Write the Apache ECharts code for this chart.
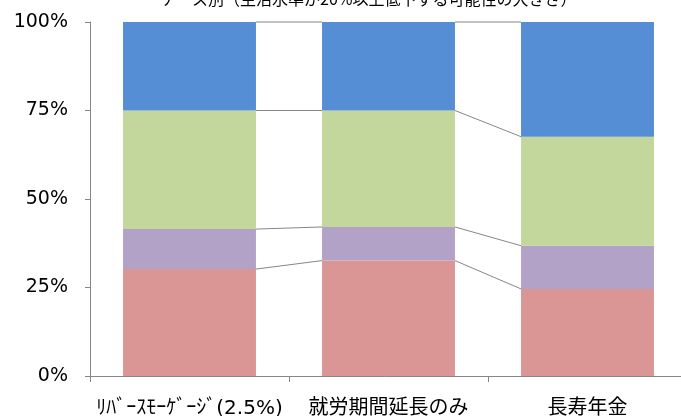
<!DOCTYPE html>
<html>
<head>
<meta charset="utf-8">
<script src="https://cdn.jsdelivr.net/npm/echarts@6/dist/echarts.min.js"></script>
<style>
  html, body { margin: 0; padding: 0; background: #fff; }
  #main { width: 681px; height: 416px; }
</style>
</head>
<body>
<div id="main"></div>
<script>
var categories = ["ﾘﾊﾞｰｽﾓｰｹﾞｰｼﾞ(2.5%)", "就労期間延長のみ", "長寿年金"];
var redValues = [30.2, 32.6, 24.6];
var purpleValues = [11.3, 9.5, 12.2];
var greenValues = [33.5, 32.9, 30.8];
var blueValues = [25.0, 25.0, 32.4];
var yTicks = [0, 25, 50, 75, 100];

var colors = ["#D99694", "#B3A2C7", "#C3D69B", "#558ED5"];
var allSeries = [redValues, purpleValues, greenValues, blueValues];
var font = "'DejaVu Sans', 'Noto Sans CJK JP', sans-serif";
var barPct = 0.668;

// 系列線用の累積値
var cumLevels = [];
var running = [0, 0, 0];
allSeries.forEach(function (vals) {
  running = running.map(function (r, i) { return r + vals[i]; });
  cumLevels.push(running.slice());
});
var lineData = [];
cumLevels.forEach(function (lv) {
  for (var i = 0; i < categories.length - 1; i++) {
    lineData.push([i, lv[i], lv[i + 1]]);
  }
});

var myChart = echarts.init(document.getElementById("main"));
var option = {
  animation: false,
  graphic: [{
    type: "text",
    left: 160,
    top: -9,
    style: {
      text: "ケース別（生活水準が20%以上低下する可能性の大きさ）",
      font: "16px 'Noto Sans CJK JP', sans-serif",
      fill: "#000"
    }
  }],
  grid: { left: 90, right: -6, top: 22, bottom: 40, outerBoundsMode: "none", containLabel: false },
  xAxis: {
    type: "category",
    data: categories,
    axisLine: { lineStyle: { color: "#868686" } },
    axisTick: { show: true, length: 6, lineStyle: { color: "#868686" } },
    axisLabel: { color: "#000", fontSize: 20, fontFamily: font, margin: 23, interval: 0 }
  },
  yAxis: {
    type: "value",
    min: 0,
    max: 100,
    interval: 25,
    axisLine: { show: true, lineStyle: { color: "#868686" } },
    axisTick: { show: true, length: 5, lineStyle: { color: "#868686" } },
    splitLine: { show: false },
    axisLabel: {
      color: "#000", fontSize: 19, fontFamily: font, margin: 22,
      formatter: function (v) { return v + "%"; }
    }
  },
  series: allSeries.map(function (vals, k) {
    return {
      type: "bar",
      stack: "total",
      data: vals,
      barWidth: (barPct * 100) + "%",
      itemStyle: { color: colors[k] }
    };
  }).concat([{
    type: "custom",
    data: lineData,
    z: 1,
    renderItem: function (params, api) {
      var i = api.value(0);
      var p1 = api.coord([i, api.value(1)]);
      var p2 = api.coord([i + 1, api.value(2)]);
      var half = api.size([1, 0])[0] * barPct / 2;
      return {
        type: "line",
        shape: { x1: p1[0] + half, y1: p1[1], x2: p2[0] - half, y2: p2[1] },
        style: { stroke: "#868686", lineWidth: 1 }
      };
    }
  }])
};
myChart.setOption(option, true);
</script>
</body>
</html>
